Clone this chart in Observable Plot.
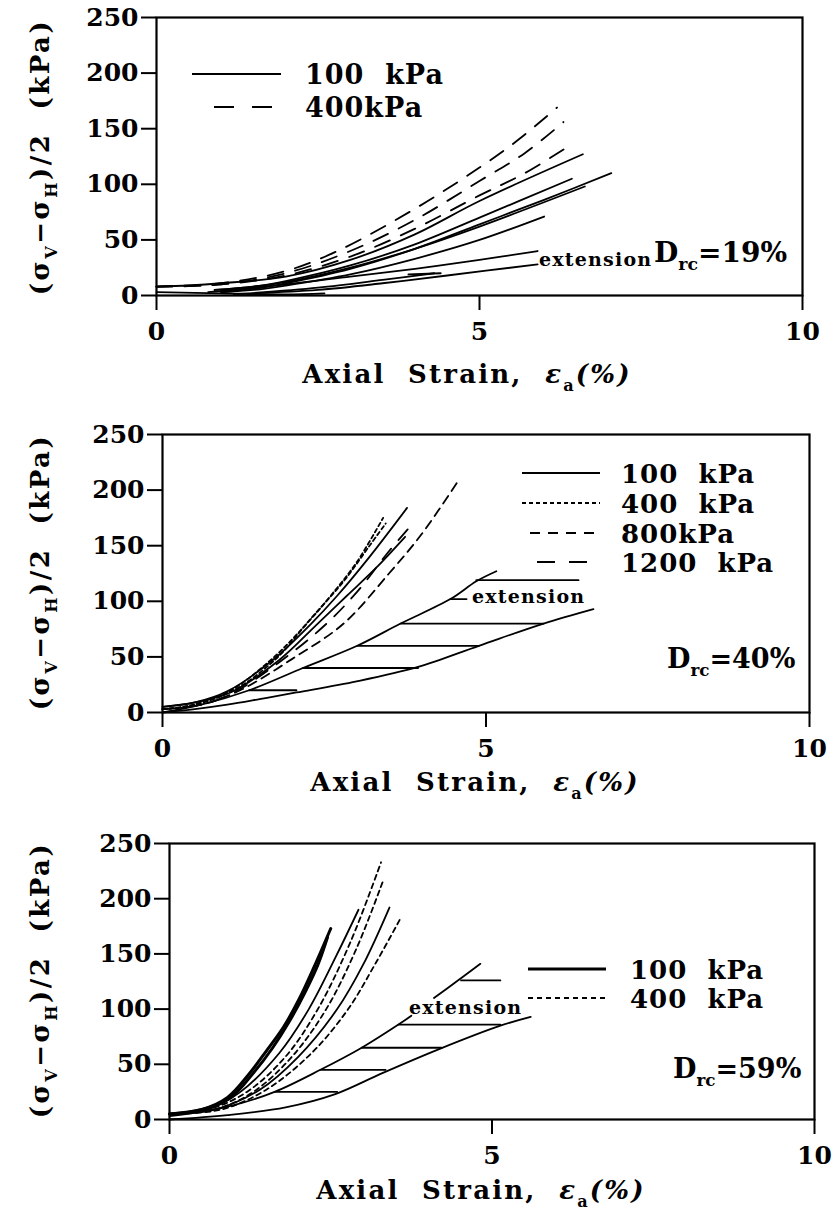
<!DOCTYPE html>
<html><head><meta charset="utf-8">
<script src="https://cdn.jsdelivr.net/npm/d3@7"></script>
<script src="https://cdn.jsdelivr.net/npm/@observablehq/plot@0.6"></script>
<style>
body{margin:0;background:#fff;}
#root{position:relative;width:833px;height:1214px;background:#fff;}
.panel{position:absolute;left:0;width:833px;}
.panel svg{display:block;}
</style></head><body><div id="root"></div>
<script>
// ---------- data (strain %, (σV−σH)/2 kPa) ----------
const xTicks = [0, 5, 10];
const yTicks = [0, 50, 100, 150, 200, 250];

// Panel 1 : Drc = 19%
const p1_100kPa = [
  [[0,8],[0.5,9],[1,11],[2,17],[3,32],[4,55],[5,85],[6.6,127]],
  [[0.9,5],[1.5,8],[2,13],[3,27],[4,46],[5,70],[6.43,105]],
  [[1,3],[1.5,6],[2,11],[3,24],[4,42],[5,64],[6,86],[7.04,110]],
  [[0.9,5],[1.5,8],[2,12],[3,25],[4,42],[5,62],[6.63,98]],
  [[1,3],[1.5,5],[2,9],[3,19],[4,33],[5,50],[6,71]]
];
const p1_400kPa = [
  [[0,8],[1,11],[2,22],[2.8,40],[4,78],[5,115],[5.6,140],[6.2,169]],
  [[0,8],[1,10],[2,20],[3,40],[4,68],[5,103],[5.7,128],[6.3,156]],
  [[0,8],[1,10],[2,18],[3,35],[4,60],[5,90],[5.7,110],[6.4,135]]
];
const p1_extension = [
  [[0.8,3],[2,10],[3,17],[4,24],[5,32],[5.9,40]],
  [[1.5,2],[2.5,5],[3.5,11],[4.5,18],[5.9,28]],
  [[1.2,1],[2.5,7],[3.5,14],[4.3,20]],
  [[0,3],[1,2],[2,1],[2.6,2]],
  [[3.9,19],[4.4,20]]
];

// Panel 2 : Drc = 40%
const p2_100kPa = [
  [[0,5],[0.5,9],[1,19],[1.7,47],[2.3,80],[2.7,105],[3.2,140],[3.78,184]],
  [[0,5],[0.5,9],[1.05,18],[1.8,47],[2.4,80],[2.85,105],[3.3,130],[3.75,158]]
];
const p2_400kPa = [
  [[0,3],[0.4,6],[1,18],[1.67,47],[2.2,78],[2.6,105],[3,135],[3.41,175]],
  [[0,3],[0.5,7],[1.1,20],[1.75,48],[2.3,85],[2.8,118],[3.2,150],[3.45,170]]
];
const p2_800kPa = [
  [[0,3],[0.6,7],[1.2,20],[2,48],[2.8,80],[3.5,125],[4,160],[4.59,210]]
];
const p2_1200kPa = [
  [[0,3],[0.6,7],[1.1,18],[1.8,45],[2.5,78],[3,108],[3.5,145],[3.9,172]]
];
const p2_extension = [
  [[0,0],[0.6,7],[1.34,20],[2.17,40],[3.01,60],[3.68,80],[4.45,102],[4.85,118],[5.16,127]],
  [[0,0],[0.5,3],[1,7],[1.5,12],[2.07,18],[3,28],[3.95,41],[4.89,60],[5.89,80],[6.66,93]],
  [[1.34,20],[2.07,20]],
  [[2.17,40],[3.95,40]],
  [[3.01,60],[4.89,60]],
  [[3.68,80],[5.89,80]],
  [[4.45,102],[4.7,102]],
  [[4.85,119],[6.43,119]]
];

// Panel 3 : Drc = 59%
const p3_100kPa_thick = [
  [[0,5],[0.5,9],[0.9,20],[1.23,41],[1.5,62],[1.77,84],[2,108],[2.24,138],[2.5,173]],
  [[0,5],[0.5,9],[0.95,20],[1.3,42],[1.6,65],[1.85,88],[2.1,115],[2.3,140],[2.45,165]]
];
const p3_100kPa = [
  [[0,5],[0.6,9],[1.1,25],[1.7,60],[2.16,100],[2.6,150],[2.93,190]],
  [[0,5],[0.7,9],[1.4,27],[2,57],[2.6,100],[3,140],[3.41,192]]
];
const p3_400kPa = [
  [[0,5],[0.6,9],[1.2,25],[1.8,57],[2.3,100],[2.8,160],[3.28,233]],
  [[0,5],[0.7,9],[1.3,25],[1.9,57],[2.43,100],[2.9,155],[3.31,216]],
  [[0,5],[0.8,9],[1.5,27],[2.2,60],[2.77,100],[3.2,142],[3.58,182]]
];
const p3_extension = [
  [[0,3],[0.6,8],[1,13],[1.63,25],[2.34,45],[2.98,65],[3.55,86],[3.75,94]],
  [[4.1,110],[4.45,125],[4.82,141]],
  [[0,0],[0.9,4],[1.8,11],[2.57,23],[3.3,42],[4.19,64],[5.13,85],[5.6,93]],
  [[1.63,25],[2.6,25]],
  [[2.34,45],[3.35,45]],
  [[2.98,65],[4.22,65]],
  [[3.55,86],[5.13,86]],
  [[4.52,126],[5.13,126]]
];

// ---------- drawing ----------
const F = "DejaVu Serif";
const toRows = (curves, key) => curves.flatMap((c, i) => c.map(([x, y]) => ({x, y, id: key + "-" + i})));

function richText(svg, x, y, parts, o) {
  const t = d3.select(svg).append("text")
    .attr("x", x).attr("y", y)
    .attr("font-family", F).attr("font-weight", "bold")
    .attr("font-size", o.size).attr("fill", "black")
    .attr("letter-spacing", o.ls || 0)
    .attr("text-anchor", o.anchor || "start")
    .style("white-space", "pre");
  if (o.rotate) t.attr("transform", `rotate(-90 ${x} ${y})`);
  let shift = 0;
  for (const p of parts) {
    const [s, kind] = typeof p === "string" ? [p, "n"] : p;
    const ts = t.append("tspan").text(s);
    const target = kind === "sub" ? o.size * 0.3 : 0;
    if (target !== shift) { ts.attr("dy", target - shift); shift = target; }
    if (kind === "sub") ts.attr("font-size", o.size * 0.62);
    if (kind === "it") ts.attr("font-style", "italic");
  }
  return t;
}

function legendLine(svg, x1, x2, y, dash, w) {
  const l = d3.select(svg).append("line")
    .attr("x1", x1).attr("x2", x2).attr("y1", y).attr("y2", y)
    .attr("stroke", "black").attr("stroke-width", w || 2);
  if (dash) l.attr("stroke-dasharray", dash);
}

function panel(cfg) {
  const marks = cfg.groups.map(g => Plot.line(toRows(g.curves, g.key), {
    x: "x", y: "y", z: "id", stroke: "black", strokeWidth: g.w,
    strokeDasharray: g.dash, curve: "catmull-rom"
  }));
  marks.push(
    Plot.frame({stroke: "black", strokeWidth: 2.2}),
    Plot.axisX({ticks: xTicks, tickSize: 15, tickPadding: 12, strokeWidth: 2, label: null}),
    Plot.axisY({ticks: yTicks, tickSize: 15, tickPadding: 3, strokeWidth: 2, label: null})
  );
  const svg = Plot.plot({
    width: 833, height: cfg.height,
    marginTop: cfg.mt, marginBottom: cfg.mb, marginLeft: cfg.ml, marginRight: cfg.mr,
    x: {domain: [0, 10]}, y: {domain: [0, 250]},
    style: {fontFamily: F, fontSize: "25px", fontWeight: "bold", color: "black", background: "white"},
    marks
  });
  const div = document.createElement("div");
  div.className = "panel";
  div.style.top = cfg.top + "px";
  div.appendChild(svg);
  document.getElementById("root").appendChild(div);
  // axis titles
  richText(svg, 49, cfg.ylabY,
    ["(σ", ["V", "sub"], "−σ", ["H", "sub"], ")/2  (kPa)"],
    {size: 26, ls: 2.5, anchor: "middle", rotate: true});
  richText(svg, cfg.xlabX, cfg.xlabY,
    ["Axial  Strain,  ", ["ε", "it"], ["a", "sub"], ["(%)", "it"]],
    {size: 26, ls: 2.2, anchor: "middle"});
  return svg;
}

// Panel 1
const s1 = panel({
  top: 0, height: 416, mt: 17, mb: 121, ml: 156, mr: 31, ylabY: 157, xlabX: 467, xlabY: 383,
  groups: [
    {key: "a", curves: p1_100kPa, w: 1.8},
    {key: "b", curves: p1_400kPa, w: 1.8, dash: "16,12"},
    {key: "c", curves: p1_extension, w: 1.8}
  ]
});
legendLine(s1, 192, 281, 74, null, 2);
legendLine(s1, 214, 281, 107, "20,18", 2);
richText(s1, 305, 84, ["100  kPa"], {size: 27, ls: 1});
richText(s1, 305, 117, ["400kPa"], {size: 27, ls: 1});
richText(s1, 654, 262, ["D", ["rc", "sub"], "=19%"], {size: 28});
richText(s1, 539, 266, ["extension"], {size: 19, ls: 1.2});

// Panel 2
const s2 = panel({
  top: 416, height: 410, mt: 18, mb: 114, ml: 162, mr: 24, ylabY: 156, xlabX: 475, xlabY: 375,
  groups: [
    {key: "a", curves: p2_100kPa, w: 1.8},
    {key: "b", curves: p2_400kPa, w: 1.8, dash: "4,3"},
    {key: "c", curves: p2_800kPa, w: 1.8, dash: "9,6"},
    {key: "d", curves: p2_1200kPa, w: 1.8, dash: "14,11"},
    {key: "e", curves: p2_extension, w: 1.8}
  ]
});
legendLine(s2, 522, 600, 57, null, 2);
legendLine(s2, 522, 600, 87, "4,3", 2);
legendLine(s2, 530, 600, 117, "10,8", 2);
legendLine(s2, 537, 600, 146, "18,14", 2);
richText(s2, 621, 67, ["100  kPa"], {size: 26, ls: 1});
richText(s2, 621, 97, ["400  kPa"], {size: 26, ls: 1});
richText(s2, 621, 127, ["800kPa"], {size: 26, ls: 1});
richText(s2, 621, 156, ["1200  kPa"], {size: 26, ls: 1});
richText(s2, 667, 252, ["D", ["rc", "sub"], "=40%"], {size: 27});
richText(s2, 472, 187, ["extension"], {size: 19, ls: 1.2});

// Panel 3
const s3 = panel({
  top: 826, height: 388, mt: 17, mb: 95, ml: 169, mr: 19, ylabY: 154, xlabX: 481, xlabY: 373,
  groups: [
    {key: "a", curves: p3_100kPa_thick, w: 3},
    {key: "b", curves: p3_100kPa, w: 1.8},
    {key: "c", curves: p3_400kPa, w: 1.8, dash: "5,4"},
    {key: "d", curves: p3_extension, w: 1.8}
  ]
});
legendLine(s3, 528, 606, 143, null, 3);
legendLine(s3, 528, 606, 172, "5,4", 2);
richText(s3, 630, 153, ["100  kPa"], {size: 26, ls: 1});
richText(s3, 630, 182, ["400  kPa"], {size: 26, ls: 1});
richText(s3, 673, 252, ["D", ["rc", "sub"], "=59%"], {size: 27});
richText(s3, 409, 188, ["extension"], {size: 19, ls: 1.2});
</script></body></html>
